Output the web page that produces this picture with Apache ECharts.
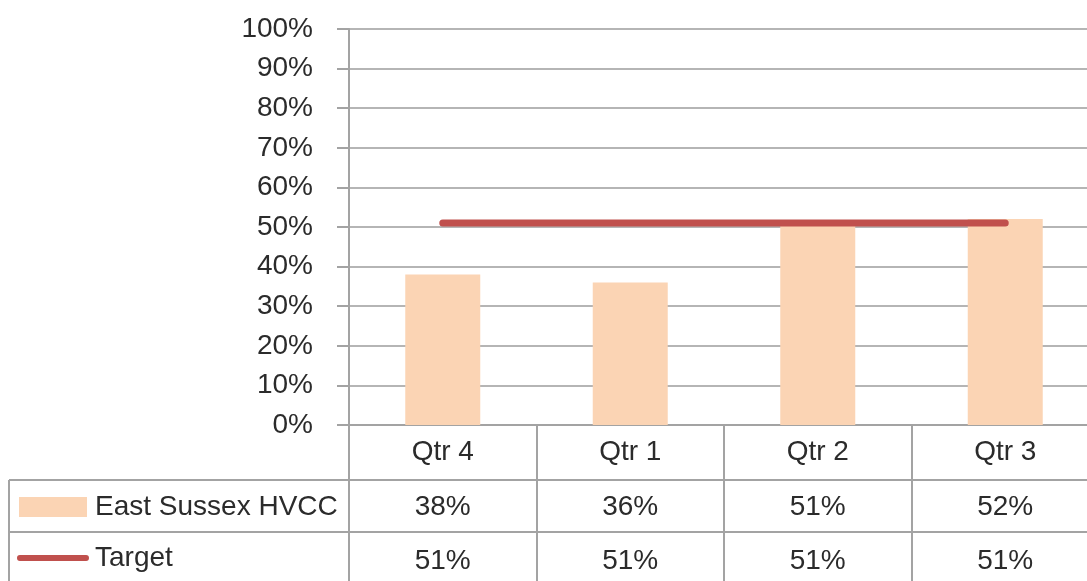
<!DOCTYPE html>
<html>
<head>
<meta charset="utf-8">
<script src="https://cdn.jsdelivr.net/npm/echarts@6/dist/echarts.min.js"></script>
<style>
  html, body { margin: 0; padding: 0; background: #fff; }
  #main { width: 1087px; height: 581px; }
</style>
</head>
<body>
<div id="main"></div>
<script>
// chart data
var quarters = ['Qtr 4', 'Qtr 1', 'Qtr 2', 'Qtr 3'];
var hvcc = [38, 36, 51, 52];
var target = [51, 51, 51, 51];
var yTicks = [0, 10, 20, 30, 40, 50, 60, 70, 80, 90, 100];

var FONT = '"Liberation Sans", Arial, sans-serif';
var TXT = '#2b2b2b';
var LINE = '#a3a3a3';

function pct(v) { return v + '%'; }

var myChart = echarts.init(document.getElementById('main'));

// table row axes share the same categories, labels come from the series values
function rowAxis(vals, offset, margin) {
    return {
        type: 'category',
        data: vals.map(pct),
        position: 'bottom',
        offset: offset,
        boundaryGap: true,
        axisLine: { show: true, onZero: false, lineStyle: { color: LINE, width: 2 } },
        axisTick: { show: false },
        axisLabel: { margin: margin, color: TXT, fontSize: 28, fontFamily: FONT, interval: 0 }
    };
}

var option = {
    animation: false,
    // plot runs past the right edge of the picture (cropped like the original)
    grid: { left: 349, width: 750, top: 29, bottom: 156, containLabel: false, outerBoundsMode: 'none' },
    legend: {
        orient: 'vertical',
        left: 17,
        top: 493,
        padding: 0,
        itemGap: 23,
        itemWidth: 72,
        itemHeight: 20,
        textStyle: { color: TXT, fontSize: 28, fontFamily: FONT, padding: [0, 0, 0, 1] },
        data: [
            { name: 'East Sussex HVCC', icon: 'path://M2,0 L70,0 L70,20 L2,20 Z' },
            { name: 'Target', icon: 'path://M3,0 L71,0 A3,3 0 0 1 71,6 L3,6 A3,3 0 0 1 3,0 Z' }
        ]
    },
    xAxis: [
        {
            type: 'category',
            data: quarters,
            position: 'bottom',
            boundaryGap: true,
            axisLine: { show: true, onZero: false, lineStyle: { color: LINE, width: 2 } },
            axisTick: { show: true, interval: 0, length: 156, lineStyle: { color: LINE, width: 2 } },
            axisLabel: { margin: 13, color: TXT, fontSize: 28, fontFamily: FONT, interval: 0 }
        },
        rowAxis(hvcc, 55, 13),
        rowAxis(target, 107, 15)
    ],
    yAxis: {
        type: 'value',
        min: yTicks[0],
        max: yTicks[yTicks.length - 1],
        interval: 10,
        axisLine: { show: true, lineStyle: { color: LINE, width: 2 } },
        axisTick: { show: true, length: 12, lineStyle: { color: LINE, width: 2 } },
        splitLine: { show: true, lineStyle: { color: '#b5b5b5', width: 2 } },
        axisLabel: { margin: 36, color: TXT, fontSize: 28, fontFamily: FONT, formatter: '{value}%' }
    },
    series: [
        {
            name: 'East Sussex HVCC',
            type: 'bar',
            xAxisIndex: 0,
            barWidth: 75,
            itemStyle: { color: '#fbd4b4' },
            data: hvcc
        },
        {
            name: 'Target',
            type: 'line',
            xAxisIndex: 0,
            symbol: 'none',
            lineStyle: { color: '#c0504d', width: 7, cap: 'round' },
            itemStyle: { color: '#c0504d' },
            data: target
        }
    ],
    // left part of the data table grid
    graphic: [
        { type: 'line', shape: { x1: 9, y1: 480, x2: 349, y2: 480 }, style: { stroke: LINE, lineWidth: 2 } },
        { type: 'line', shape: { x1: 9, y1: 532, x2: 349, y2: 532 }, style: { stroke: LINE, lineWidth: 2 } },
        { type: 'line', shape: { x1: 9, y1: 480, x2: 9, y2: 581 }, style: { stroke: LINE, lineWidth: 2 } }
    ]
};

myChart.setOption(option);
</script>
</body>
</html>
